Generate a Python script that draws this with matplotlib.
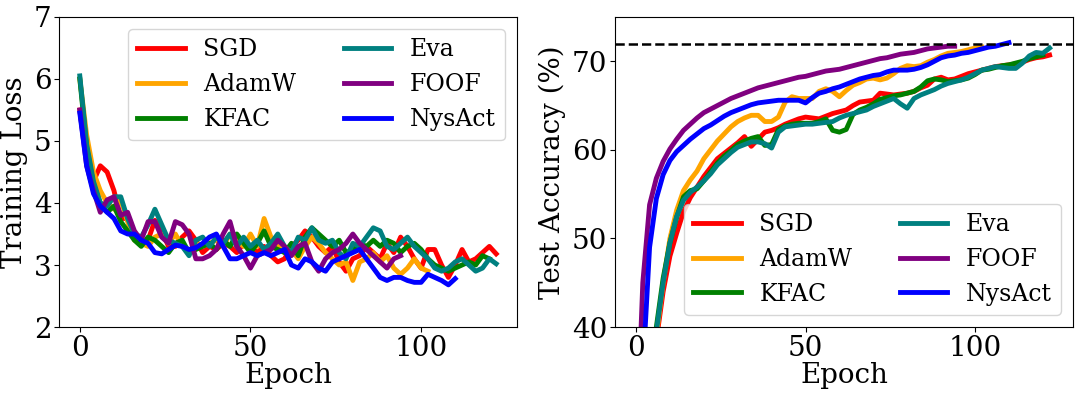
import numpy as np
import matplotlib
matplotlib.use("Agg")
import matplotlib.pyplot as plt

plt.rcParams['font.family'] = ['DejaVu Serif']

names = ["SGD", "AdamW", "KFAC", "Eva", "FOOF", "NysAct"]
colors = ["red", "orange", "green", "#008080", "purple", "blue"]
epoch_step = 2

# Training loss, one value every 2 epochs
loss_sgd = [5.5, 4.7, 4.35, 4.6, 4.5, 4.2, 3.75, 3.75, 3.45, 3.35, 3.4, 3.72, 3.55, 3.3, 3.3, 3.45,
            3.55, 3.4, 3.2, 3.3, 3.25, 3.35, 3.3, 3.2, 3.35, 3.3, 3.2, 3.3, 3.15, 3.05, 3.1, 3.3,
            3.4, 3.55, 3.45, 3.3, 3.2, 3.3, 3.05, 2.9, 3.1, 3.15, 3.3, 3.2, 3.1, 3.35, 3.2, 3.45,
            3.3, 3.1, 2.95, 3.25, 3.25, 3.0, 2.8, 3.0, 3.25, 3.05, 3.1, 3.2, 3.3, 3.18]
loss_adamw = [6.0, 5.1, 4.5, 4.2, 4.0, 3.9, 4.05, 3.7, 3.4, 3.35, 3.3, 3.45, 3.5, 3.35, 3.5, 3.3,
              3.2, 3.35, 3.3, 3.35, 3.4, 3.3, 3.5, 3.4, 3.3, 3.5, 3.3, 3.75, 3.45, 3.3, 3.2, 3.25,
              3.1, 3.3, 3.45, 3.35, 3.2, 3.1, 3.0, 3.05, 2.75, 3.05, 3.1, 3.2, 3.05, 3.15, 2.95,
              2.85, 2.95, 3.1, 2.95, 2.9]
loss_kfac = [6.0, 4.9, 4.3, 4.0, 3.85, 3.95, 3.7, 3.55, 3.4, 3.3, 3.45, 3.4, 3.3, 3.2, 3.35, 3.4,
             3.2, 3.25, 3.3, 3.35, 3.25, 3.4, 3.3, 3.5, 3.35, 3.2, 3.35, 3.55, 3.3, 3.25, 3.2, 3.35,
             3.15, 3.45, 3.6, 3.5, 3.4, 3.3, 3.4, 3.2, 3.25, 3.35, 3.3, 3.4, 3.3, 3.4, 3.35, 3.2,
             3.3, 3.35, 3.25, 3.1, 3.0, 2.95, 2.9, 2.95, 3.0, 3.05, 3.0, 3.15, 3.1]
loss_eva = [6.05, 4.95, 4.35, 4.0, 3.95, 4.1, 4.1, 3.75, 3.5, 3.45, 3.65, 3.9, 3.65, 3.4, 3.35, 3.3,
            3.15, 3.4, 3.45, 3.3, 3.45, 3.35, 3.5, 3.3, 3.45, 3.3, 3.4, 3.25, 3.35, 3.5, 3.3, 3.2,
            3.45, 3.4, 3.6, 3.4, 3.35, 3.4, 3.2, 3.1, 3.35, 3.3, 3.45, 3.6, 3.55, 3.3, 3.25, 3.35,
            3.45, 3.3, 3.2, 3.1, 2.95, 2.9, 2.95, 3.05, 3.1, 3.0, 2.9, 2.95, 3.1, 3.02]
loss_foof = [5.5, 4.6, 4.2, 3.85, 4.05, 4.1, 3.8, 3.85, 3.55, 3.4, 3.7, 3.7, 3.45, 3.35, 3.7, 3.65,
             3.5, 3.1, 3.1, 3.15, 3.25, 3.5, 3.7, 3.3, 3.15, 2.95, 3.15, 3.2, 3.25, 3.4, 3.3, 3.15,
             3.3, 3.35, 3.05, 2.9, 3.1, 3.2, 3.25, 3.35, 3.5, 3.35, 3.25, 3.15, 3.05, 2.95, 3.1, 3.15]
loss_nysact = [5.45, 4.6, 4.15, 3.95, 3.85, 3.75, 3.55, 3.5, 3.5, 3.4, 3.35, 3.2, 3.18, 3.25, 3.32,
               3.3, 3.25, 3.28, 3.35, 3.45, 3.5, 3.3, 3.1, 3.1, 3.15, 3.2, 3.15, 3.2, 3.15, 3.2,
               3.25, 3.0, 2.95, 3.1, 3.05, 2.95, 2.9, 3.05, 3.1, 3.15, 3.2, 3.25, 3.1, 2.95, 2.8,
               2.75, 2.8, 2.8, 2.75, 2.72, 2.72, 2.85, 2.8, 2.75, 2.68, 2.78]

# Test accuracy (%), one value every 2 epochs
acc_sgd = [15, 24, 32, 38.5, 44, 48.0, 50.6, 53.0, 54.6, 55.8, 57.0, 58.0, 59.0, 59.6, 60.2, 60.8,
           61.5, 60.4, 61.2, 62.0, 62.2, 62.5, 62.9, 63.2, 63.5, 63.7, 63.6, 63.5, 63.8, 64.1, 64.3,
           64.5, 65.0, 65.4, 65.5, 65.6, 66.4, 66.3, 66.2, 66.3, 66.4, 66.6, 67.0, 67.3, 68.0, 68.2,
           67.9, 68.0, 68.3, 68.6, 68.8, 69.0, 69.2, 69.4, 69.5, 69.6, 69.7, 69.9, 70.2, 70.4, 70.5,
           70.7]
acc_adamw = [15, 24, 32, 39, 45, 50.0, 53.2, 55.4, 56.6, 57.6, 59.0, 60.0, 61.0, 61.8, 62.6, 63.2,
             63.6, 63.9, 63.9, 63.2, 63.2, 63.7, 65.4, 66.0, 65.8, 65.8, 65.8, 66.6, 66.9, 66.6, 66.0,
             66.7, 67.3, 67.6, 68.0, 68.1, 67.9, 68.1, 68.6, 69.2, 69.5, 69.4, 69.5, 69.9, 70.2, 70.6,
             70.9, 71.0, 71.1, 71.3, 71.5, 71.6]
acc_kfac = [15, 25, 33, 40, 45.5, 49.5, 52.4, 54.7, 55.4, 55.6, 56.5, 57.5, 58.5, 59.3, 59.9, 60.6,
            61.0, 61.3, 61.5, 60.5, 60.6, 62.3, 62.7, 62.9, 63.0, 63.0, 63.0, 63.2, 63.5, 62.2, 62.0,
            62.3, 64.0, 64.5, 64.8, 65.2, 65.7, 65.9, 66.1, 66.2, 66.4, 66.6, 67.1, 67.8, 68.0, 67.9,
            67.7, 67.8, 67.9, 68.1, 68.5, 69.0, 69.1, 69.3, 69.5, 69.6, 69.8, 70.0, 70.3, 70.5, 70.7]
acc_eva = [14, 24, 32, 39.5, 45, 49.5, 52.5, 54.3, 55.2, 55.8, 56.5, 57.3, 58.3, 59.0, 59.7, 60.3,
           60.6, 60.9, 60.9, 60.7, 60.2, 62.0, 62.6, 62.7, 62.8, 62.9, 62.9, 63.0, 63.1, 63.2, 63.6,
           63.9, 64.1, 64.3, 64.5, 64.9, 65.2, 65.5, 65.8, 65.2, 64.7, 65.8, 66.2, 66.5, 66.8, 67.2,
           67.5, 67.7, 67.9, 68.2, 68.6, 69.0, 69.2, 69.4, 69.3, 69.2, 69.2, 69.8, 70.6, 71.0, 70.9,
           71.5]
acc_foof = [25, 45, 53.8, 56.8, 58.7, 60.1, 61.2, 62.2, 62.9, 63.6, 64.2, 64.6, 65.0, 65.4, 65.8,
            66.1, 66.4, 66.7, 67.0, 67.2, 67.4, 67.6, 67.8, 68.0, 68.2, 68.3, 68.5, 68.7, 68.9, 69.0,
            69.1, 69.3, 69.5, 69.7, 69.9, 70.1, 70.3, 70.4, 70.6, 70.8, 70.9, 71.0, 71.2, 71.4, 71.5,
            71.6, 71.7, 71.7]
acc_nysact = [20, 35, 49, 54.5, 57.2, 58.8, 59.8, 60.5, 61.2, 61.8, 62.4, 62.8, 63.3, 63.8, 64.2,
              64.5, 64.8, 65.1, 65.3, 65.4, 65.5, 65.6, 65.6, 65.6, 65.6, 65.3, 65.9, 66.4, 66.6,
              66.9, 67.1, 67.4, 67.7, 68.0, 68.2, 68.4, 68.5, 68.8, 69.0, 69.0, 69.0, 69.1, 69.3,
              69.6, 70.0, 70.4, 70.6, 70.7, 70.9, 71.0, 71.2, 71.4, 71.6, 71.7, 71.9, 72.1]

target_acc = 72
loss_series = [loss_sgd, loss_adamw, loss_kfac, loss_eva, loss_foof, loss_nysact]
acc_series = [acc_sgd, acc_adamw, acc_kfac, acc_eva, acc_foof, acc_nysact]

fig = plt.figure(figsize=(10.8, 3.96), dpi=100)
ax1 = fig.add_axes([59 / 1080, 69 / 396, 458 / 1080, 310 / 396])
ax2 = fig.add_axes([615 / 1080, 69 / 396, 458 / 1080, 310 / 396])

lw = 3.5
for name, c, ys in zip(names, colors, loss_series):
    x = np.arange(len(ys)) * epoch_step
    ax1.plot(x, ys, color=c, lw=lw, label=name)
for name, c, ys in zip(names, colors, acc_series):
    x = np.arange(len(ys)) * epoch_step
    ax2.plot(x, ys, color=c, lw=lw, label=name)
ax2.axhline(target_acc, color="black", ls="--", lw=1.8)

ax1.set_xlim(-6.1, 128.1)
ax1.set_ylim(2, 7)
ax1.set_yticks([2, 3, 4, 5, 6, 7])
ax1.set_xticks([0, 50, 100])
ax1.set_xlabel("Epoch", fontsize=20, labelpad=0)
ax1.set_ylabel("Training Loss", fontsize=20)

ax2.set_xlim(-6.2, 128.9)
ax2.set_ylim(40, 75)
ax2.set_yticks([40, 50, 60, 70])
ax2.set_xticks([0, 50, 100])
ax2.set_xlabel("Epoch", fontsize=20, labelpad=0)
ax2.set_ylabel("Test Accuracy (%)", fontsize=20)

for ax in (ax1, ax2):
    ax.tick_params(labelsize=20, pad=2)

ax1.legend(loc="upper right", ncol=2, fontsize=17)
ax2.legend(loc="lower right", ncol=2, fontsize=17)

fig.savefig("out.png", dpi=100)
